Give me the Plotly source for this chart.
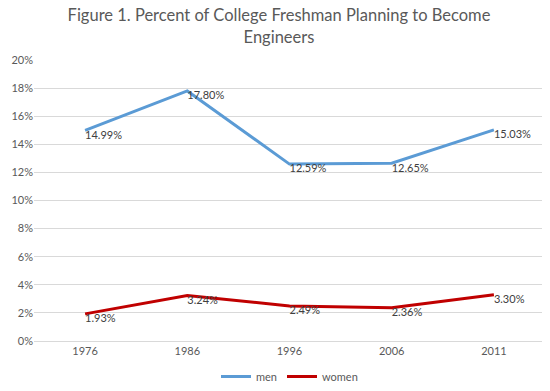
import plotly.graph_objects as go

years = ["1976", "1986", "1996", "2006", "2011"]
men = [14.99, 17.80, 12.59, 12.65, 15.03]
women = [1.93, 3.24, 2.49, 2.36, 3.30]
y_ticks = [0, 2, 4, 6, 8, 10, 12, 14, 16, 18, 20]

font_family = "Lato, 'Open Sans', sans-serif"

fig = go.Figure()
fig.add_trace(go.Scatter(
    x=years, y=[v / 100 for v in men], name="men", mode="lines+text",
    line=dict(color="#5B9BD5", width=3),
    text=[f"{v:.2f}%" for v in men], textposition="bottom right",
    textfont=dict(size=11, color="#404040", family=font_family),
    cliponaxis=False,
))
fig.add_trace(go.Scatter(
    x=years, y=[v / 100 for v in women], name="women", mode="lines+text",
    line=dict(color="#C00000", width=3),
    text=[f"{v:.2f}%" for v in women], textposition="bottom right",
    textfont=dict(size=11, color="#404040", family=font_family),
    cliponaxis=False,
))

fig.update_layout(
    width=542, height=383,
    margin=dict(l=26, r=5, t=52, b=50, autoexpand=False),
    paper_bgcolor="white", plot_bgcolor="white",
    font=dict(family=font_family, color="#595959", size=11),
    title=dict(
        text="Figure 1. Percent of College Freshman Planning to Become<br>Engineers",
        x=0.5, xanchor="center", y=0.965, yanchor="top",
        font=dict(size=16.5, color="#595959", family=font_family),
    ),
    xaxis=dict(
        type="category", range=[-0.5, 4.5], showgrid=False, showline=True,
        linecolor="#D9D9D9", ticks="", tickfont=dict(size=11, color="#595959"),
    ),
    yaxis=dict(
        range=[0, 0.2], tickvals=[t / 100 for t in y_ticks],
        ticktext=[f"{t}%" for t in y_ticks],
        showgrid=True, gridcolor="#D9D9D9", zeroline=False, showline=False,
        tickfont=dict(size=11, color="#595959"), ticks="",
    ),
    legend=dict(
        orientation="h", x=0.5, xanchor="center",
        yref="container", y=0.0, yanchor="bottom",
        font=dict(size=11, color="#595959"),
    ),
    showlegend=True,
)

fig.write_html("out.html")
